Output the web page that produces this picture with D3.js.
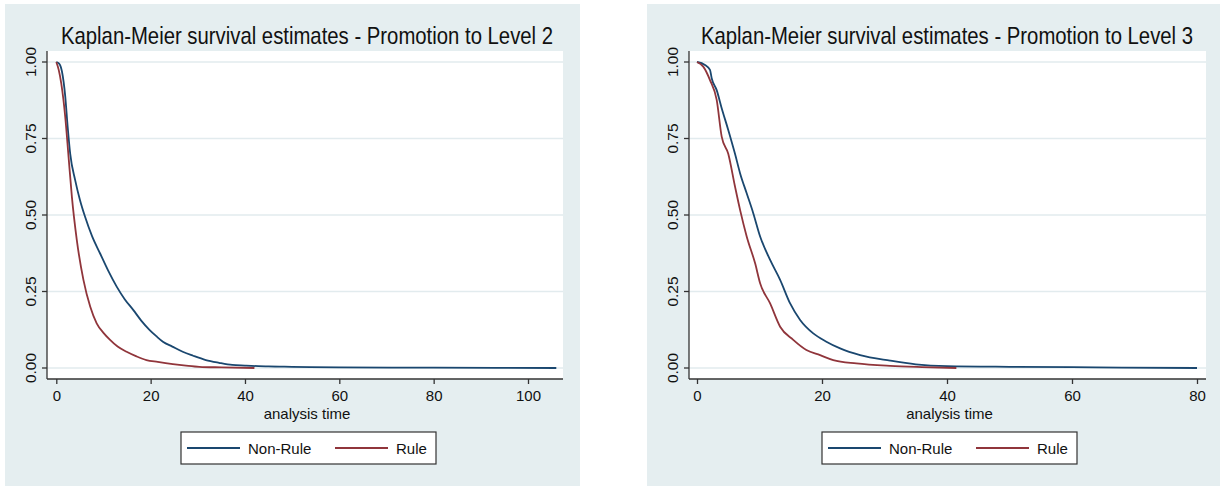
<!DOCTYPE html>
<html>
  <head>
    <script src="https://cdn.jsdelivr.net/npm/d3@7/dist/d3.min.js" charset="utf-8"></script>
    <style>
      body { margin: 0; background: #fff; }
      text { font-family: "Liberation Sans", Arial, sans-serif; fill: #111; }
    </style>
  </head>
  <body>
    <svg id="km" width="1225" height="489"></svg>

    <script>
      // survival estimates: [analysis time, S(t)]
      var level2NonRule = [[0,1],[0.6,0.995],[1.2,0.969],[1.9,0.887],[2.4,0.79],[2.95,0.70],[4.0,0.614],[5,0.55],
        [6.1,0.494],[7.6,0.43],[9.26,0.375],[11,0.318],[12.8,0.266],[14.5,0.225],[16.3,0.19],[18,0.155],
        [19.8,0.124],[21.2,0.104],[22.6,0.086],[24.6,0.07],[26.8,0.053],[29,0.04],[31.7,0.026],[34.5,0.017],
        [37.3,0.010],[40,0.008],[45,0.005],[50,0.004],[60,0.002],[80,0.001],[106,0.0]];
      var level2Rule = [[0,1],[0.5,0.975],[1.05,0.93],[1.9,0.82],[2.6,0.69],[3.3,0.56],[4.35,0.418],[5.75,0.288],
        [7.2,0.20],[8.56,0.146],[10,0.115],[11.4,0.092],[13,0.07],[14.9,0.053],[17,0.038],[19.1,0.026],
        [21.5,0.02],[24.7,0.013],[27.5,0.008],[30.3,0.004],[35,0.002],[42,0.0]];
      var level3NonRule = [[0,1],[1.28,0.99],[2.08,0.974],[2.35,0.947],[3.15,0.908],[3.95,0.849],[5.0,0.778],
        [6.08,0.70],[6.9,0.636],[7.95,0.571],[9.0,0.506],[10.1,0.43],[11.7,0.353],[13.3,0.288],[14.9,0.211],
        [16.5,0.157],[18.6,0.113],[20.7,0.086],[22.9,0.064],[26.1,0.042],[30.9,0.024],[35,0.012],[40,0.006],
        [50,0.004],[60,0.003],[68,0.001],[80,0.0]];
      var level3Rule = [[0,1],[1.0,0.985],[2.08,0.941],[3.15,0.876],[3.95,0.756],[5.0,0.70],[6.08,0.593],
        [6.9,0.516],[7.95,0.43],[9.3,0.342],[10.1,0.277],[11.7,0.211],[13.3,0.135],[15.4,0.092],[17.5,0.059],
        [19.7,0.042],[21.8,0.026],[25.5,0.015],[30.9,0.007],[36,0.003],[41.5,0.0]];

      var yTicks = [0, 0.25, 0.5, 0.75, 1];
      var xTicksLevel2 = [0, 20, 40, 60, 80, 100];
      var xTicksLevel3 = [0, 20, 40, 60, 80];
      var seriesNames = ["Non-Rule", "Rule"];
      var seriesColors = ["#1a476f", "#90353b"];

      var svg = d3.select("#km");
      var titleSquash = 0.847; // Stata's title font is narrower than Liberation Sans

      function drawPanel(opt) {
        var g = svg.append("g");

        g.append("rect").attr("x", opt.bg[0]).attr("y", 4)
          .attr("width", opt.bg[1] - opt.bg[0]).attr("height", 482)
          .attr("fill", "#e5eef0");

        var left = opt.plot[0], right = opt.plot[1], top = 51, bottom = 379;
        g.append("rect").attr("x", left).attr("y", top)
          .attr("width", right - left).attr("height", bottom - top)
          .attr("fill", "#fff");

        var x = d3.scaleLinear().domain([0, opt.xMax]).range(opt.xRange);
        var y = d3.scaleLinear().domain([0, 1]).range([368, 62]);

        // gridlines
        g.selectAll(".grid").data(yTicks).join("line")
          .attr("x1", left).attr("x2", right)
          .attr("y1", function(d) { return y(d); })
          .attr("y2", function(d) { return y(d); })
          .attr("stroke", "#e2ebee").attr("stroke-width", 1.3);

        var yAxis = g.append("g").attr("transform", "translate(" + left + ",0)")
          .call(d3.axisLeft(y).tickValues(yTicks).tickFormat(d3.format(".2f")).tickSize(5).tickSizeOuter(0));
        yAxis.select(".domain").attr("d", "M0," + top + "V" + bottom);
        yAxis.selectAll(".tick").attr("transform", null);
        yAxis.selectAll(".tick line").attr("y1", y).attr("y2", y);
        yAxis.selectAll("text")
          .attr("x", -11).attr("y", y).attr("dy", 0)
          .attr("transform", function(d) { return "rotate(-90,-11," + y(d) + ")"; })
          .attr("text-anchor", "middle").style("font-size", "15.5px");

        var xAxis = g.append("g").attr("transform", "translate(0," + bottom + ")")
          .call(d3.axisBottom(x).tickValues(opt.xTicks).tickSize(5).tickSizeOuter(0).tickPadding(6));
        xAxis.select(".domain").attr("d", "M" + left + ",0H" + right);
        xAxis.selectAll("text").style("font-size", "15px");

        [yAxis, xAxis].forEach(function(a) {
          a.selectAll(".domain, .tick line").attr("stroke", "#333").attr("stroke-width", 1.3);
          a.selectAll("text").style("font-family", "Liberation Sans, Arial, sans-serif").attr("fill", "#111");
        });

        g.append("text").attr("x", (left + right) / 2 + 2).attr("y", 419)
          .attr("text-anchor", "middle").style("font-size", "15px").text("analysis time");

        g.append("g").attr("transform", "translate(" + opt.titleX + ",44) scale(" + titleSquash + ",1)")
          .append("text").attr("text-anchor", "middle")
          .style("font-size", "24px").attr("fill", "#1c2a4f")
          .text(opt.title);

        var line = d3.line().x(function(d) { return x(d[0]); }).y(function(d) { return y(d[1]); })
          .curve(d3.curveMonotoneX);
        opt.series.forEach(function(s, i) {
          g.append("path").datum(s).attr("d", line).attr("fill", "none")
            .attr("stroke", seriesColors[i]).attr("stroke-width", 1.8);
        });

        // legend
        var lg = g.append("g").attr("transform", "translate(" + opt.legendX + ",432)");
        lg.append("rect").attr("width", 255).attr("height", 32)
          .attr("fill", "#fff").attr("stroke", "#333").attr("stroke-width", 1.2);
        seriesNames.forEach(function(name, i) {
          var ox = i * 148;
          lg.append("line").attr("x1", 6 + ox).attr("x2", 59 + ox).attr("y1", 16).attr("y2", 16)
            .attr("stroke", seriesColors[i]).attr("stroke-width", 1.8);
          lg.append("text").attr("x", 67 + ox).attr("y", 21.5).style("font-size", "15px").text(name);
        });
      }

      drawPanel({
        bg: [5, 580], plot: [47, 563], xMax: 100, xRange: [56.3, 528], xTicks: xTicksLevel2,
        title: "Kaplan-Meier survival estimates - Promotion to Level 2", titleX: 307,
        series: [level2NonRule, level2Rule], legendX: 181
      });
      drawPanel({
        bg: [647, 1220], plot: [689, 1206], xMax: 80, xRange: [697, 1197], xTicks: xTicksLevel3,
        title: "Kaplan-Meier survival estimates - Promotion to Level 3", titleX: 947,
        series: [level3NonRule, level3Rule], legendX: 822
      });
    </script>
  </body>
</html>
